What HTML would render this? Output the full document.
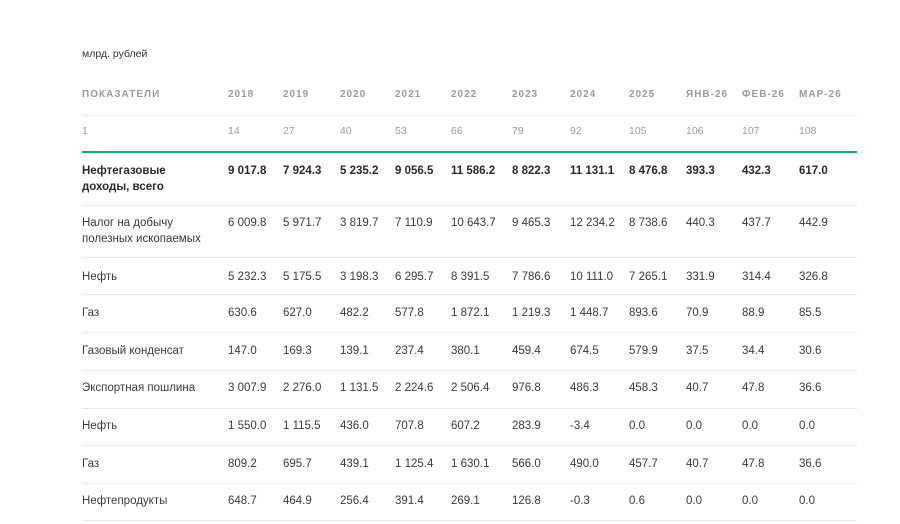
<!DOCTYPE html>
<html><head><meta charset="utf-8"><style>
body{margin:0;width:900px;height:524px;background:#fff;position:relative;overflow:hidden;font-family:"Liberation Sans",sans-serif;color:#3a3a3a;font-size:11.5px}
.t{position:absolute;line-height:14px;white-space:nowrap}
.h{color:#9a9a9a;font-size:10px;font-weight:bold;letter-spacing:1px}
.g{color:#9a9a9a;font-size:10.5px}
.b{font-weight:bold;color:#2a2a2a}
.l{position:absolute;left:82px;width:775px;height:1px;background:#e8e8e8}
</style></head><body>
<div class="t" style="left:82px;top:47px;font-size:10.5px;color:#333">млрд. рублей</div>
<div id="c"></div>
<div class="l" style="top:115px"></div>
<div class="l" style="top:151px;height:2px;background:#1ea889"></div>
<div class="l" style="top:205px"></div>
<div class="l" style="top:257px"></div>
<div class="l" style="top:294px"></div>
<div class="l" style="top:332px"></div>
<div class="l" style="top:370px"></div>
<div class="l" style="top:408px"></div>
<div class="l" style="top:445px"></div>
<div class="l" style="top:483px"></div>
<div class="l" style="top:520px"></div>
<script>
var X=[228,283,340,395,451,512,570,629,686,742,799];
var rows=[
[88,"h","ПОКАЗАТЕЛИ",["2018","2019","2020","2021","2022","2023","2024","2025","ЯНВ-26","ФЕВ-26","МАР-26"]],
[124,"g","1",["14","27","40","53","66","79","92","105","106","107","108"]],
[163,"b","Нефтегазовые<br>доходы, всего",["9 017.8","7 924.3","5 235.2","9 056.5","11 586.2","8 822.3","11 131.1","8 476.8","393.3","432.3","617.0"]],
[215,"","Налог на добычу<br>полезных ископаемых",["6 009.8","5 971.7","3 819.7","7 110.9","10 643.7","9 465.3","12 234.2","8 738.6","440.3","437.7","442.9"]],
[269,"","Нефть",["5 232.3","5 175.5","3 198.3","6 295.7","8 391.5","7 786.6","10 111.0","7 265.1","331.9","314.4","326.8"]],
[305,"","Газ",["630.6","627.0","482.2","577.8","1 872.1","1 219.3","1 448.7","893.6","70.9","88.9","85.5"]],
[343,"","Газовый конденсат",["147.0","169.3","139.1","237.4","380.1","459.4","674.5","579.9","37.5","34.4","30.6"]],
[380,"","Экспортная пошлина",["3 007.9","2 276.0","1 131.5","2 224.6","2 506.4","976.8","486.3","458.3","40.7","47.8","36.6"]],
[418,"","Нефть",["1 550.0","1 115.5","436.0","707.8","607.2","283.9","-3.4","0.0","0.0","0.0","0.0"]],
[456,"","Газ",["809.2","695.7","439.1","1 125.4","1 630.1","566.0","490.0","457.7","40.7","47.8","36.6"]],
[493,"","Нефтепродукты",["648.7","464.9","256.4","391.4","269.1","126.8","-0.3","0.6","0.0","0.0","0.0"]]];
var h="";
rows.forEach(function(r){
 var lh=r[1]==""||r[1]=="b"?"line-height:16px;":"";
 h+='<div class="t '+r[1]+'" style="left:82px;top:'+r[0]+'px;'+lh+'">'+r[2]+'</div>';
 r[3].forEach(function(v,i){h+='<div class="t '+r[1]+'" style="left:'+X[i]+'px;top:'+r[0]+'px;'+lh+'">'+v+'</div>';});
});
document.getElementById("c").innerHTML=h;
</script>
</body></html>
